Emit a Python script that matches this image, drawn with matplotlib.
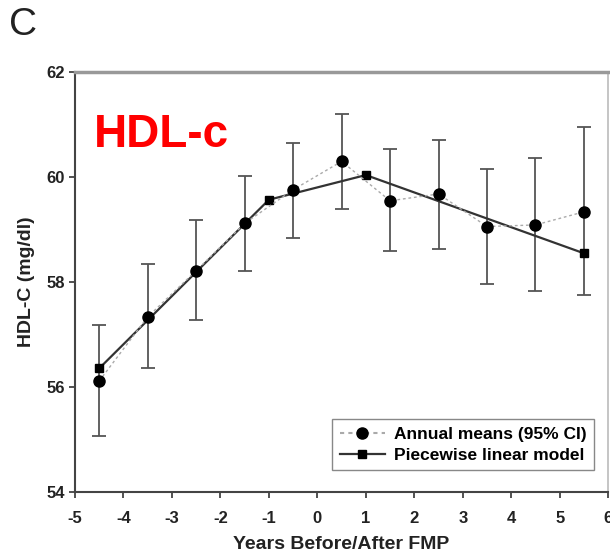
import matplotlib.pyplot as plt
from matplotlib.lines import Line2D

plt.rcParams['font.family'] = ['Liberation Sans', 'DejaVu Sans']
plt.rcParams['axes.unicode_minus'] = False

# annual means with 95% CI
years = [-4.5, -3.5, -2.5, -1.5, -0.5, 0.5, 1.5, 2.5, 3.5, 4.5, 5.5]
means = [56.11, 57.33, 58.21, 59.11, 59.75, 60.29, 59.54, 59.67, 59.05, 59.08, 59.33]
ci_low = [55.06, 56.35, 57.27, 58.21, 58.84, 59.38, 58.58, 58.63, 57.96, 57.83, 57.75]
ci_high = [57.17, 58.33, 59.18, 60.01, 60.64, 61.19, 60.52, 60.69, 60.15, 60.35, 60.94]

# piecewise linear model knots
model_x = [-4.5, -1, 1, 5.5]
model_y = [56.35, 59.56, 60.03, 58.54]


def main():
    fig = plt.figure(figsize=(6.1, 5.55), dpi=100)
    ax = fig.add_axes([0.123, 0.114, 0.874, 0.757])

    yerr = [[m - lo for m, lo in zip(means, ci_low)],
            [hi - m for m, hi in zip(means, ci_high)]]
    ax.errorbar(years, means, yerr=yerr, fmt='none', ecolor='#555555',
                elinewidth=1.3, capsize=5, capthick=1.3, zorder=2)
    ax.plot(years, means, linestyle=(0, (2, 2)), color='#aaaaaa', lw=1.0,
            marker='o', markersize=8, markerfacecolor='black',
            markeredgecolor='black', zorder=4)
    ax.plot(model_x, model_y, color='#333333', lw=1.6, marker='s',
            markersize=6, markerfacecolor='black', markeredgecolor='black',
            zorder=3)

    ax.set_xlim(-5, 6)
    ax.set_ylim(54, 62)
    ax.set_xticks(range(-5, 7))
    ax.set_yticks([54, 56, 58, 60, 62])
    ax.tick_params(direction='out', length=4, width=1.2, colors='#333333',
                   labelsize=12)
    ax.tick_params(axis='x', pad=10)
    for lab in ax.get_xticklabels() + ax.get_yticklabels():
        lab.set_fontweight('bold')
        lab.set_color('#222222')

    for side in ('left', 'bottom'):
        ax.spines[side].set_color('#444444')
        ax.spines[side].set_linewidth(1.5)
    ax.spines['top'].set_color('#999999')
    ax.spines['top'].set_linewidth(2.5)
    ax.spines['right'].set_color('#bbbbbb')
    ax.spines['right'].set_linewidth(1.2)

    ax.set_xlabel('Years Before/After FMP', fontsize=14, fontweight='bold',
                  color='#222222', labelpad=7)
    ax.set_ylabel('HDL-C (mg/dl)', fontsize=14, fontweight='bold',
                  color='#222222', labelpad=8)

    handles = [
        Line2D([], [], linestyle=(0, (2, 2)), color='#aaaaaa', marker='o',
               markersize=8, markerfacecolor='black', markeredgecolor='black'),
        Line2D([], [], color='#333333', lw=1.6, marker='s', markersize=6,
               markerfacecolor='black', markeredgecolor='black'),
    ]
    leg = ax.legend(handles, ['Annual means (95% CI)', 'Piecewise linear model'],
                    loc='lower right', bbox_to_anchor=(0.99, 0.03),
                    prop={'weight': 'bold', 'size': 12.5}, fancybox=False,
                    framealpha=1, edgecolor='#888888', borderpad=0.45,
                    handlelength=2.6, labelspacing=0.3, handletextpad=0.5)
    leg.get_frame().set_linewidth(1.0)

    ax.text(0.035, 0.85, 'HDL-c', transform=ax.transAxes, color='#ff0000',
            fontsize=33, fontweight='bold', va='center', ha='left')
    fig.text(0.015, 0.955, 'C', fontsize=28, va='center', ha='left',
             color='#222222')

    fig.savefig('out.png', dpi=100)


if __name__ == '__main__':
    main()
